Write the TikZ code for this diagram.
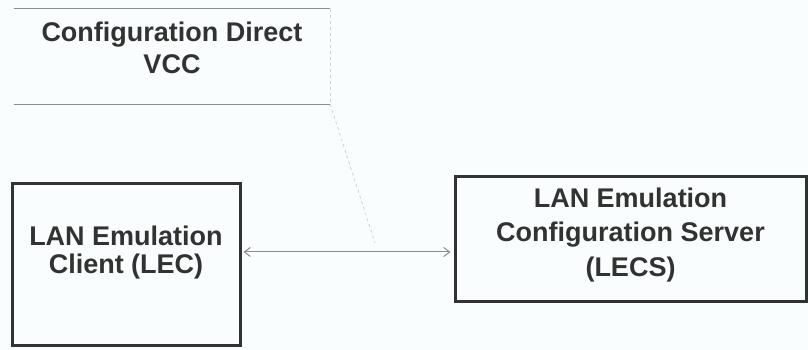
\documentclass[tikz,border=0pt]{standalone}
\usepackage{xcolor}
\usepackage{fontspec}
\setmainfont{Liberation Sans}
\usetikzlibrary{arrows.meta,calc}
\definecolor{inkgray}{RGB}{50,50,50}
\definecolor{linegray}{RGB}{140,140,140}
\definecolor{paper}{RGB}{250,253,253}
\tikzset{
	unitbox/.style={draw=inkgray, line width=3pt, inner sep=0pt},
	unittext/.style={text=inkgray, font=\fontsize{27}{34.5}\selectfont\bfseries, align=center},
	vcclabel/.style={inner sep=0pt},
	vccline/.style={draw=linegray, line width=0.9pt},
	faintline/.style={draw=linegray!40, line width=0.8pt, dashed},
	duplex/.style={draw=linegray, line width=1pt, {Straight Barb[length=6pt,width=9pt]}-{Straight Barb[length=6pt,width=9pt]}}
}

\begin{document}
\begin{tikzpicture}[x=1pt, y=1pt]
	\fill[paper] (0,0) rectangle (808,350);
	\useasboundingbox (0,0) rectangle (808,350);
		\node[vcclabel, minimum width=316pt, minimum height=95pt] (vcc) at (172,293.5) {};
		\node[unittext, font=\fontsize{27}{32}\selectfont\bfseries] (vcctext) at ([yshift=8.5pt]vcc.center) {Configuration Direct\\VCC};
		\node[unitbox, minimum width=228pt, minimum height=162pt] (lec) at (126,85) {};
		\node[unittext, font=\fontsize{27}{28}\selectfont\bfseries] (lectext) at ([yshift=12pt]lec.center) {LAN Emulation\\Client (LEC)};
		\node[unitbox, minimum width=351pt, minimum height=125pt] (lecs) at (630.5,110.5) {};
		\node[unittext] (lecstext) at ([yshift=4.5pt]lecs.center) {LAN Emulation\\Configuration Server\\(LECS)};
	% direct VCC between client and server
	\coordinate (lecport) at ([yshift=13pt]lec.east);
	\coordinate (lecsport) at (lecs.west |- lecport);
	\draw[duplex] ([xshift=2pt]lecport) -- ([xshift=-3pt]lecsport);
	\coordinate (vccmark) at ($(lecport)!0.63!(lecsport)+(0,9pt)$);
	\draw[vccline] (vcc.north west) -- (vcc.north east);
	\draw[vccline] (vcc.south west) -- (vcc.south east);
	\draw[faintline] (vcc.north east) -- (vcc.south east);
	\draw[faintline] (vcc.south east) -- (vccmark);
\end{tikzpicture}
\end{document}
